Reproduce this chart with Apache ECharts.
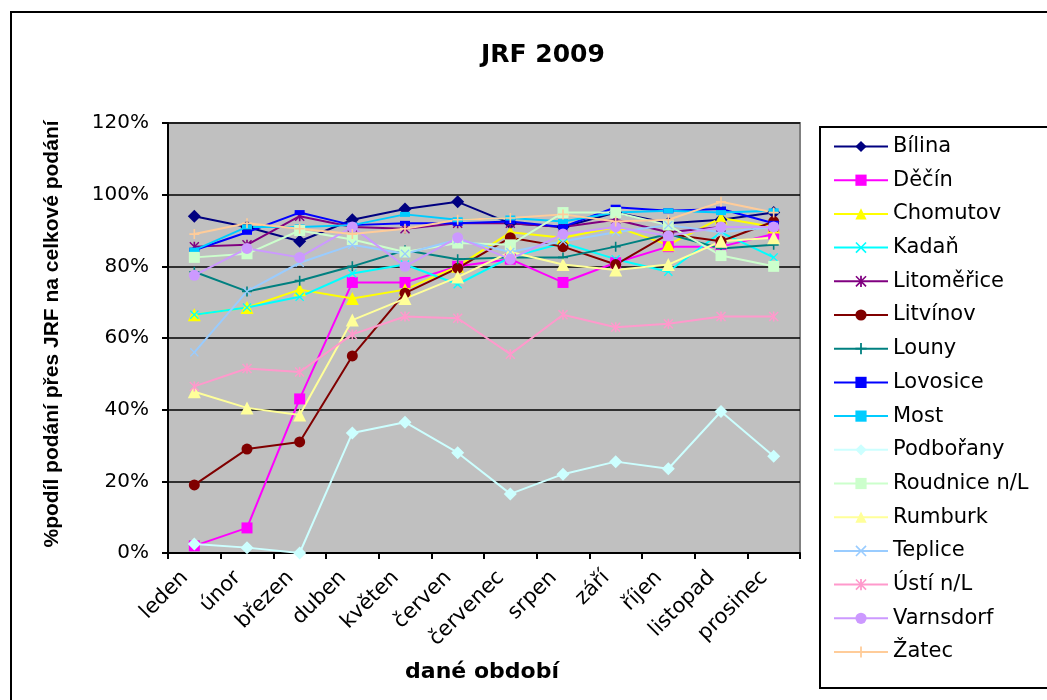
<!DOCTYPE html>
<html>
<head>
<meta charset="utf-8">
<title>JRF 2009</title>
<script src="https://cdn.jsdelivr.net/npm/echarts@6/dist/echarts.min.js"></script>
<style>
  html, body { margin: 0; padding: 0; background: #fff; }
  #chart { width: 1047px; height: 700px; }
</style>
</head>
<body>
<div id="chart"></div>
<script>
const months = ['leden', 'únor', 'březen', 'duben', 'květen', 'červen', 'červenec', 'srpen', 'září', 'říjen', 'listopad', 'prosinec']
const yTicks = [0, 20, 40, 60, 80, 100, 120]

// % values
const bilina     = [94, 91, 87, 93, 96, 98, 92, 91, 95, 92, 93, 95]
const decin      = [2, 7, 43, 75.5, 75.5, 80, 82, 75.5, 81, 85.5, 85.5, 89]
const chomutov   = [66.5, 68.5, 73.5, 71, 73.5, 80, 89.5, 88, 91, 86, 93.5, 91]
const kadan      = [66.5, 68.5, 71.5, 78, 80.5, 75, 82.5, 86.5, 82, 78.5, 89.5, 82.5]
const litomerice = [85.5, 86, 94, 91, 90.5, 92, 92, 91, 93, 89.5, 91, 91]
const litvinov   = [19, 29, 31, 55, 72.5, 79.5, 88, 85.5, 80.5, 89, 87, 92.5]
const louny      = [78.5, 73, 76, 80, 84.5, 82, 82.5, 82.5, 85.5, 89, 85, 86]
const lovosice   = [84.5, 89.5, 95, 91.5, 92, 92, 92.5, 91, 96.5, 95.5, 96, 92]
const most       = [84.5, 91, 91, 91.5, 94.5, 93, 93.5, 92.5, 95, 95.5, 95, 95.5]
const podborany  = [2.5, 1.5, 0, 33.5, 36.5, 28, 16.5, 22, 25.5, 23.5, 39.5, 27]
const roudnice   = [82.5, 83.5, 90, 87.5, 84, 86.5, 86, 95, 95, 91.5, 83, 80]
const rumburk    = [45, 40.5, 38.5, 65, 71, 77, 84, 80.5, 79, 80.5, 87, 88]
const teplice    = [56, 73, 81, 86, 83.5, 87.5, 84, 87, 89.5, 91.5, 89.5, 91]
const usti       = [46.5, 51.5, 50.5, 61, 66, 65.5, 55.5, 66.5, 63, 64, 66, 66]
const varnsdorf  = [77.5, 85, 82.5, 91, 80, 88, 82, 89, 91, 88.5, 91, 91]
const zatec      = [89, 92, 90.5, 89, 90.5, 93, 93.5, 94.5, 92.5, 93, 98, 95]

const xMark = 'path://M0,1L1,0L5,4L9,0L10,1L6,5L10,9L9,10L5,6L1,10L0,9L4,5Z'
const starMark = 'path://M0,1L1,0L5,4L9,0L10,1L6,5L10,9L9,10L5,6L1,10L0,9L4,5ZM4.2,0H5.8V10H4.2Z'
const plusMark = 'path://M4.2,0H5.8V4.2H10V5.8H5.8V10H4.2V5.8H0V4.2H4.2Z'

const lines = [
    { name: 'Bílina', data: bilina, color: '#000080', symbol: 'diamond', size: 13 },
    { name: 'Děčín', data: decin, color: '#FF00FF', symbol: 'rect', size: 11 },
    { name: 'Chomutov', data: chomutov, color: '#FFFF00', symbol: 'triangle', size: 13 },
    { name: 'Kadaň', data: kadan, color: '#00FFFF', symbol: xMark, size: 9 },
    { name: 'Litoměřice', data: litomerice, color: '#800080', symbol: starMark, size: 10 },
    { name: 'Litvínov', data: litvinov, color: '#800000', symbol: 'circle', size: 11 },
    { name: 'Louny', data: louny, color: '#008080', symbol: plusMark, size: 10 },
    { name: 'Lovosice', data: lovosice, color: '#0000FF', symbol: 'rect', size: [10, 5] },
    { name: 'Most', data: most, color: '#00CCFF', symbol: 'rect', size: [10, 5] },
    { name: 'Podbořany', data: podborany, color: '#CCFFFF', symbol: 'diamond', size: 13 },
    { name: 'Roudnice n/L', data: roudnice, color: '#CCFFCC', symbol: 'rect', size: 11 },
    { name: 'Rumburk', data: rumburk, color: '#FFFF99', symbol: 'triangle', size: 13 },
    { name: 'Teplice', data: teplice, color: '#99CCFF', symbol: xMark, size: 9 },
    { name: 'Ústí n/L', data: usti, color: '#FF99CC', symbol: starMark, size: 10 },
    { name: 'Varnsdorf', data: varnsdorf, color: '#CC99FF', symbol: 'circle', size: 11 },
    { name: 'Žatec', data: zatec, color: '#FFCC99', symbol: plusMark, size: 10 }
]

const font = 'DejaVu Sans'
const chart = echarts.init(document.getElementById('chart'))

chart.setOption({
    animation: false,
    backgroundColor: '#fff',
    title: {
        text: 'JRF 2009',
        left: 476,
        top: 38,
        textStyle: { fontFamily: font, fontSize: 25, fontWeight: 'bold', color: '#000' }
    },
    legend: {
        data: lines.map(v => v.name),
        orient: 'vertical',
        left: 828,
        top: 131,
        itemWidth: 54,
        itemHeight: 14,
        itemGap: 12.7,
        textStyle: { fontFamily: font, fontSize: 21, lineHeight: 20, color: '#000' }
    },
    grid: { left: 168, right: 247, top: 123, bottom: 147, show: true, backgroundColor: '#C0C0C0', borderColor: '#808080', borderWidth: 2 },
    xAxis: {
        type: 'category',
        data: months,
        boundaryGap: true,
        axisLine: { lineStyle: { color: '#000', width: 2 } },
        axisTick: { show: true, length: 6, lineStyle: { color: '#000', width: 2 } },
        // trailing spaces pull the rotated labels a bit left, like Excel does
        axisLabel: { interval: 0, rotate: 45, margin: 12, formatter: v => v + '  ', fontFamily: font, fontSize: 21, color: '#000' }
    },
    yAxis: {
        type: 'value',
        min: yTicks[0],
        max: yTicks[yTicks.length - 1],
        interval: 20,
        axisLine: { show: true, lineStyle: { color: '#000', width: 2 } },
        axisTick: { show: true, length: 6, lineStyle: { color: '#000', width: 2 } },
        axisLabel: { formatter: '{value}%', margin: 19, fontFamily: font, fontSize: 20, color: '#000' },
        splitLine: { lineStyle: { color: '#000', width: 1.5 } }
    },
    graphic: [
        { type: 'rect', shape: { x: 11, y: 12, width: 1100, height: 800 }, style: { fill: 'none', stroke: '#000', lineWidth: 2 }, silent: true },
        { type: 'rect', shape: { x: 820, y: 127, width: 300, height: 561 }, style: { fill: 'none', stroke: '#000', lineWidth: 2 }, silent: true },
        {
            type: 'text', x: 52, y: 334, rotation: Math.PI / 2,
            style: { text: '%podíl podání přes JRF na celkové podání', font: 'bold 21px "Liberation Sans"', fill: '#000', textAlign: 'center', textVerticalAlign: 'middle' }
        },
        {
            type: 'text', x: 482, y: 672,
            style: { text: 'dané období', font: 'bold 22px "DejaVu Sans"', fill: '#000', textAlign: 'center', textVerticalAlign: 'middle' }
        }
    ],
    series: lines.map(v => ({
        name: v.name,
        type: 'line',
        data: v.data,
        symbol: v.symbol,
        symbolSize: v.size,
        showAllSymbol: true,
        color: v.color,
        lineStyle: { color: v.color, width: 2 },
        itemStyle: { color: v.color },
        emphasis: { disabled: true }
    }))
})
</script>
</body>
</html>
